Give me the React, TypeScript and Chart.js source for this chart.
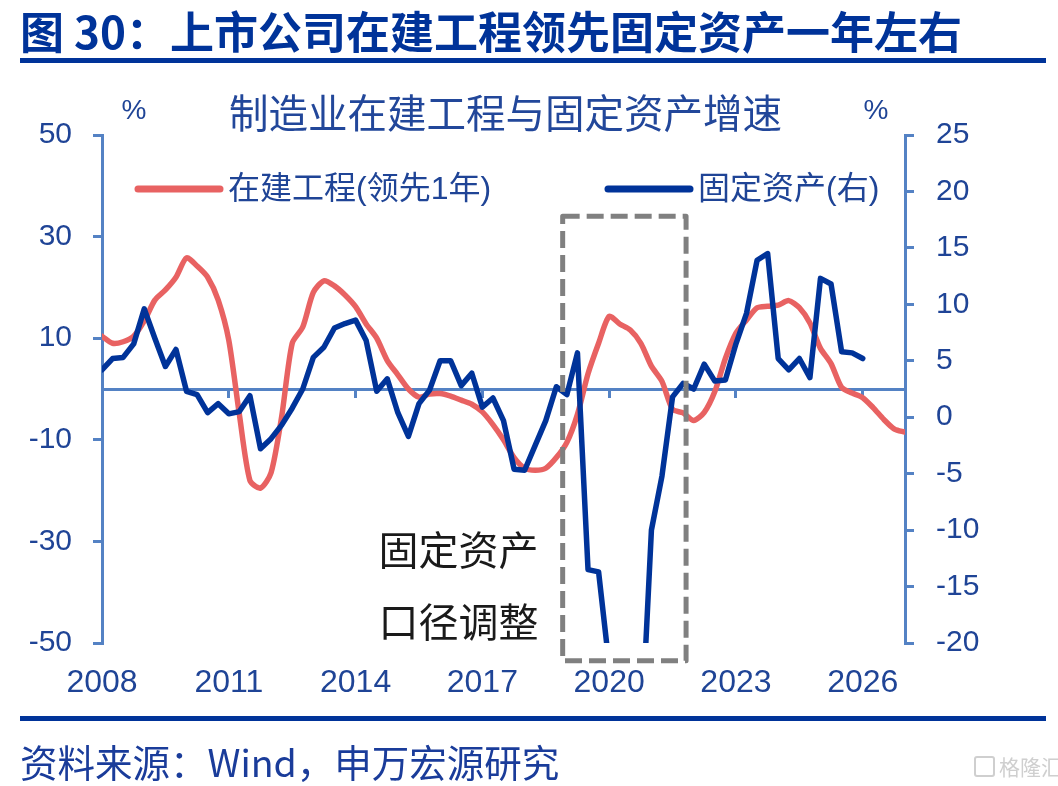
import React, { useEffect, useRef } from "react";
import { Chart, registerables } from "chart.js";

Chart.register(...registerables);

// ---------------- data ----------------
const START_YEAR = 2008;
const STEP_YEARS = 0.25; // quarterly points
const X_MIN = 2008;
const X_MAX = 2027;

const seriesNames = ["在建工程(领先1年)", "固定资产(右)"];

// 在建工程(领先1年) — left axis, %
const cipLead = [
  10.4, 9.0, 9.3, 10.4, 13.4, 17.5, 19.5, 22.0, 25.8, 24.2,
  22.0, 17.5, 9.6, -5.0, -18.0, -19.5, -16.5, -5.5, 9.0, 12.2,
  19.0, 21.3, 20.3, 18.5, 16.2, 12.8, 10.0, 5.6, 2.8, 0.0,
  -1.6, -1.0, -0.9, -1.4, -2.2, -3.0, -4.5, -7.0, -10.0, -13.5,
  -15.6, -16.0, -15.6, -13.5, -10.5, -5.0, 3.0, 9.0, 14.3, 12.8,
  11.6, 9.0, 4.5, 1.5, -4.0, -4.7, -6.2, -4.6, -0.5, 6.0,
  11.0, 13.6, 16.0, 16.3, 16.5, 17.4, 16.0, 13.0, 8.0, 5.0,
  0.3, -0.8, -1.7, -3.7, -6.0, -7.9, -8.5,
];

// 固定资产(右) — right axis, %
const faiGrowth = [
  4.2, 5.2, 5.3, 6.5, 9.6, 7.0, 4.5, 6.0, 2.3, 2.0,
  0.4, 1.2, 0.3, 0.5, 1.9, -2.8, -1.9, -0.7, 0.8, 2.5,
  5.3, 6.2, 7.9, 8.3, 8.6, 6.8, 2.3, 3.4, 0.4, -1.7,
  1.2, 2.4, 5.0, 5.0, 2.8, 3.9, 0.9, 1.7, -0.3, -4.6,
  -4.7, -2.5, -0.3, 2.7, 2.0, 5.7, -13.5, -13.7, -22.0, -33.0,
  -33.0, -29.0, -10.0, -5.2, 1.8, 3.0, 2.5, 4.7, 3.2, 3.3,
  6.5, 9.2, 13.9, 14.5, 5.2, 4.2, 5.2, 3.5, 12.3, 11.8,
  5.8, 5.7, 5.2,
];

const xTickYears = [2008, 2011, 2014, 2017, 2020, 2023, 2026];
const leftTicks = [-50, -30, -10, 10, 30, 50];
const rightTicks = [-20, -15, -10, -5, 0, 5, 10, 15, 20, 25];

// annotation: dashed box (years / left-axis values) and note text
const boxYears = [2018.9, 2021.82];
const boxLeftValues = [34, -53.5];
const noteLines = ["固定资产", "口径调整"];
const noteYear = 2014.54;
const noteLeftValues = [-31.7, -45.9];

// ---------------- styles ----------------
const RED = "rgb(232, 98, 98)";
const BLUE = "rgb(0, 51, 153)";
const AXIS = "rgb(84, 130, 196)";
const LABEL = "#1f4496";
const TITLE_BLUE = "#003399";
const CJK = '"Noto Sans CJK SC", sans-serif';
const LATIN = '"Liberation Sans", Arial, "Noto Sans CJK SC", sans-serif';

const toPoints = (vals: number[]) =>
  vals.map((v, i) => ({ x: START_YEAR + i * STEP_YEARS, y: v }));

const overlayPlugin = {
  id: "overlay",
  afterDatasetsDraw(chart: any) {
    const { ctx, chartArea, scales } = chart;
    const xs = scales.x;
    const yl = scales.y;
    ctx.save();

    // dashed box
    const bx0 = xs.getPixelForValue(boxYears[0]);
    const bx1 = xs.getPixelForValue(boxYears[1]);
    const by0 = yl.getPixelForValue(boxLeftValues[0]);
    const by1 = yl.getPixelForValue(boxLeftValues[1]);
    ctx.strokeStyle = "#808080";
    ctx.lineWidth = 5;
    ctx.lineJoin = "round";
    ctx.setLineDash([17, 7]);
    ctx.strokeRect(bx0, by0, bx1 - bx0, by1 - by0);
    ctx.setLineDash([]);

    // note text
    ctx.fillStyle = "#1a1a1a";
    ctx.font = `40px ${CJK}`;
    ctx.textAlign = "left";
    ctx.textBaseline = "middle";
    const nx = xs.getPixelForValue(noteYear);
    noteLines.forEach((t, i) => {
      ctx.fillText(t, nx, yl.getPixelForValue(noteLeftValues[i]));
    });

    // subtitle
    const cx = (chartArea.left + chartArea.right) / 2;
    ctx.fillStyle = "#22479a";
    ctx.font = `39.5px ${CJK}`;
    ctx.textAlign = "center";
    ctx.fillText("制造业在建工程与固定资产增速", cx + 2, chartArea.top - 22);

    // unit labels
    ctx.fillStyle = LABEL;
    ctx.font = `28px ${LATIN}`;
    ctx.fillText("%", chartArea.left + 32, chartArea.top - 24);
    ctx.fillText("%", chartArea.right - 29, chartArea.top - 24);

    // legend
    const ly = chartArea.top + 54;
    const items = [
      { x: chartArea.left + 36, color: RED, text: seriesNames[0] },
      { x: chartArea.left + 506, color: BLUE, text: seriesNames[1] },
    ];
    items.forEach((it) => {
      ctx.strokeStyle = it.color;
      ctx.lineWidth = 7;
      ctx.lineCap = "round";
      ctx.beginPath();
      ctx.moveTo(it.x, ly);
      ctx.lineTo(it.x + 82, ly);
      ctx.stroke();
      ctx.fillStyle = LABEL;
      ctx.font = `32px ${LATIN}`;
      ctx.textAlign = "left";
      ctx.fillText(it.text, it.x + 90, ly + 1);
    });
    ctx.restore();
  },
};

export default function App() {
  const ref = useRef<HTMLCanvasElement>(null);

  useEffect(() => {
    if (!ref.current) return;
    const setTicks = (arr: number[]) => (s: any) => {
      s.ticks = arr.map((v) => ({ value: v }));
    };
    const chart = new Chart(ref.current, {
      type: "line",
      data: {
        datasets: [
          {
            label: seriesNames[1],
            data: toPoints(faiGrowth),
            borderColor: BLUE,
            borderWidth: 5.5,
            pointRadius: 0,
            tension: 0,
            yAxisID: "y1",
            xAxisID: "x",
            order: 0,
            borderJoinStyle: "round",
            borderCapStyle: "round",
          },
          {
            label: seriesNames[0],
            data: toPoints(cipLead),
            borderColor: RED,
            borderWidth: 5.5,
            pointRadius: 0,
            tension: 0.25,
            yAxisID: "y",
            xAxisID: "x",
            order: 1,
            borderJoinStyle: "round",
            borderCapStyle: "round",
          },
        ],
      },
      options: {
        responsive: false,
        animation: false,
        events: [],
        layout: { padding: { top: 135, bottom: 63, left: 0, right: 0 } },
        plugins: {
          legend: { display: false },
          tooltip: { enabled: false },
          title: { display: false },
        },
        scales: {
          x: {
            type: "linear",
            position: "bottom",
            min: X_MIN,
            max: X_MAX,
            afterBuildTicks: setTicks(xTickYears),
            afterFit: (s: any) => {
              s.height = 80;
            },
            ticks: {
              color: LABEL,
              font: { size: 32, family: LATIN },
              padding: 21,
              maxRotation: 0,
              autoSkip: false,
              callback: (v: any) => String(v),
            },
            grid: { display: false, drawTicks: false },
            border: { display: false },
          },
          x2: {
            type: "linear",
            position: { y: 0 } as any,
            min: X_MIN,
            max: X_MAX,
            afterBuildTicks: setTicks(xTickYears),
            ticks: { display: false },
            grid: {
              drawOnChartArea: false,
              drawTicks: true,
              tickLength: 7,
              color: AXIS,
              lineWidth: 3,
            },
            border: { display: true, color: AXIS, width: 3 },
          },
          y: {
            type: "linear",
            position: "left",
            min: -50,
            max: 50,
            afterBuildTicks: setTicks(leftTicks),
            afterFit: (s: any) => {
              s.width = 102;
            },
            ticks: {
              color: LABEL,
              font: { size: 30, family: LATIN },
              padding: 21,
              callback: (v: any) => String(v),
            },
            grid: {
              drawOnChartArea: false,
              tickLength: 9,
              color: AXIS,
              lineWidth: 3,
            },
            border: { display: true, color: AXIS, width: 3 },
          },
          y1: {
            type: "linear",
            position: "right",
            min: -20,
            max: 25,
            afterBuildTicks: setTicks(rightTicks),
            afterFit: (s: any) => {
              s.width = 153;
            },
            ticks: {
              color: LABEL,
              font: { size: 30, family: LATIN },
              padding: 22,
              callback: (v: any) => String(v),
            },
            grid: {
              drawOnChartArea: false,
              tickLength: 9,
              color: AXIS,
              lineWidth: 3,
            },
            border: { display: true, color: AXIS, width: 3 },
          },
        },
      } as any,
      plugins: [overlayPlugin],
    });
    return () => chart.destroy();
  }, []);

  return (
    <div
      style={{
        position: "fixed",
        left: 0,
        top: 0,
        width: 1058,
        height: 786,
        background: "#fff",
        overflow: "hidden",
      }}
    >
      <canvas
        ref={ref}
        width={1058}
        height={786}
        style={{ position: "absolute", left: 0, top: 0, width: 1058, height: 786 }}
      />
      <div
        style={{
          position: "absolute",
          left: 20,
          top: 8,
          fontFamily: CJK,
          fontWeight: 700,
          fontSize: 44,
          lineHeight: "44px",
          color: TITLE_BLUE,
          whiteSpace: "nowrap",
        }}
      >
        图 30：上市公司在建工程领先固定资产一年左右
      </div>
      <div
        style={{
          position: "absolute",
          left: 20,
          top: 58,
          width: 1026,
          height: 5,
          background: TITLE_BLUE,
        }}
      />
      <div
        style={{
          position: "absolute",
          left: 20,
          top: 716,
          width: 1026,
          height: 5,
          background: TITLE_BLUE,
        }}
      />
      <div
        style={{
          position: "absolute",
          left: 20,
          top: 742,
          fontFamily: CJK,
          fontSize: 37.5,
          lineHeight: "37px",
          color: "#1a3c9a",
          whiteSpace: "nowrap",
        }}
      >
        资料来源：Wind，申万宏源研究
      </div>
      <div
        style={{
          position: "absolute",
          left: 974,
          top: 756,
          fontFamily: CJK,
          fontSize: 21,
          lineHeight: "21px",
          color: "#cfcfcf",
          whiteSpace: "nowrap",
        }}
      >
        <span
          style={{
            display: "inline-block",
            width: 17,
            height: 17,
            border: "2px solid #cfcfcf",
            borderRadius: 3,
            marginRight: 4,
            verticalAlign: "-2px",
          }}
        />
        格隆汇
      </div>
    </div>
  );
}
